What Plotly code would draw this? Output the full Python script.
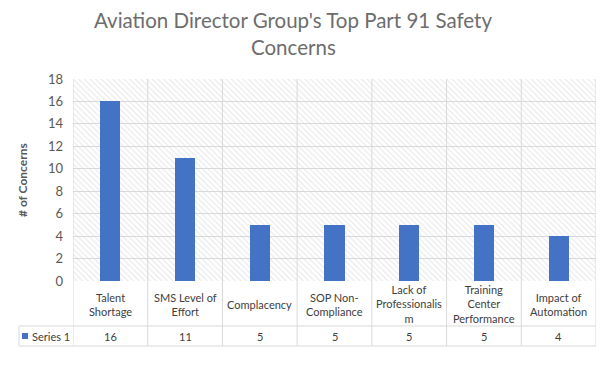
import plotly.graph_objects as go

categories = ["Talent Shortage", "SMS Level of Effort", "Complacency", "SOP Non-Compliance",
              "Lack of Professionalism", "Training Center Performance", "Impact of Automation"]
category_labels = ["Talent<br>Shortage", "SMS Level of<br>Effort", "Complacency", "SOP Non-<br>Compliance",
                   "Lack of<br>Professionalis<br>m", "Training<br>Center<br>Performance", "Impact of<br>Automation"]
values = [16, 11, 5, 5, 5, 5, 4]
series_name = "Series 1"
y_ticks = [0, 2, 4, 6, 8, 10, 12, 14, 16, 18]
y_max = 18

OFF = 8                      # default page body margin
W, H = 604 - OFF, 370 - OFF
L, R, T, B = 73, 596, 79, 281  # plot area box in page pixels
FONT = "Lato, 'Open Sans', sans-serif"
GRID = "#d9d9d9"
TXT = "#595959"
BLUE = "#4472C4"


def px(x):
    return (x - L) / (R - L)


def py(y):
    return (B - y) / (B - T)


n = len(categories)
xs = list(range(n))

fig = go.Figure()
# hatched plot-area background
fig.add_trace(go.Bar(
    x=xs, y=[y_max] * n, width=1.0, hoverinfo="skip", showlegend=False,
    marker=dict(color="rgba(0,0,0,0)", line=dict(width=0),
                pattern=dict(shape="\\", fgcolor="#d6d6d6", bgcolor="rgba(0,0,0,0)",
                             size=4, solidity=0.3)),
))
fig.add_trace(go.Bar(
    x=xs, y=values, width=0.27, name=series_name, showlegend=False,
    marker=dict(color=BLUE, line=dict(width=0)),
))

shapes = []
for i in range(n + 1):
    shapes.append(dict(type="line", xref="x", yref="paper", x0=i - 0.5, x1=i - 0.5,
                       y0=py(346), y1=1, line=dict(color=GRID, width=1), layer="above"))
for yy in (326, 346):
    shapes.append(dict(type="line", xref="paper", yref="paper", x0=px(19), x1=1,
                       y0=py(yy), y1=py(yy), line=dict(color=GRID, width=1), layer="above"))
shapes.append(dict(type="line", xref="paper", yref="paper", x0=px(19), x1=px(19),
                   y0=py(326), y1=py(346), line=dict(color=GRID, width=1), layer="above"))
shapes.append(dict(type="rect", xref="paper", yref="paper", x0=px(22), x1=px(28),
                   y0=py(339), y1=py(333), fillcolor=BLUE, line=dict(width=0), layer="above"))

annotations = []
for i, lab in enumerate(category_labels):
    annotations.append(dict(x=i, y=py(304), xref="x", yref="paper", text=lab, showarrow=False,
                            xanchor="center", yanchor="middle", align="center",
                            font=dict(family=FONT, size=11, color="#404040")))
    annotations.append(dict(x=i, y=py(336.5), xref="x", yref="paper", text=str(values[i]), showarrow=False,
                            xanchor="center", yanchor="middle",
                            font=dict(family=FONT, size=11, color="#404040")))
annotations.append(dict(x=px(29.5), y=py(336.5), xref="paper", yref="paper", text=series_name,
                        showarrow=False, xanchor="left", yanchor="middle",
                        font=dict(family=FONT, size=11, color="#404040")))
annotations.append(dict(x=px(22), y=py(180), xref="paper", yref="paper", text="<b># of Concerns</b>",
                        showarrow=False, textangle=-90, xanchor="center", yanchor="middle",
                        font=dict(family=FONT, size=12, color=TXT)))
annotations.append(dict(x=px(293), y=py(20), xref="paper", yref="paper",
                        text="Aviation Director Group's Top Part 91 Safety", showarrow=False,
                        xanchor="center", yanchor="middle",
                        font=dict(family=FONT, size=20.5, color="#6d6d6d")))
annotations.append(dict(x=px(293), y=py(47), xref="paper", yref="paper",
                        text="Concerns", showarrow=False,
                        xanchor="center", yanchor="middle",
                        font=dict(family=FONT, size=20.5, color="#6d6d6d")))

fig.update_layout(
    width=W, height=H,
    margin=dict(l=L - OFF, r=W - (R - OFF), t=T - OFF, b=H - (B - OFF), pad=0),
    paper_bgcolor="white", plot_bgcolor="white",
    barmode="overlay", bargap=0,
    showlegend=False,
    xaxis=dict(range=[-0.5, n - 0.5], showticklabels=False, showgrid=False, zeroline=False,
               showline=False, ticks="", fixedrange=True),
    yaxis=dict(range=[0, y_max], tickvals=y_ticks, showgrid=True, gridcolor=GRID, gridwidth=1,
               zeroline=False, showline=False, ticks="", ticklabelstandoff=9,
               tickfont=dict(family=FONT, size=13, color=TXT), fixedrange=True),
    shapes=shapes, annotations=annotations,
)
fig.write_html("out.html")
